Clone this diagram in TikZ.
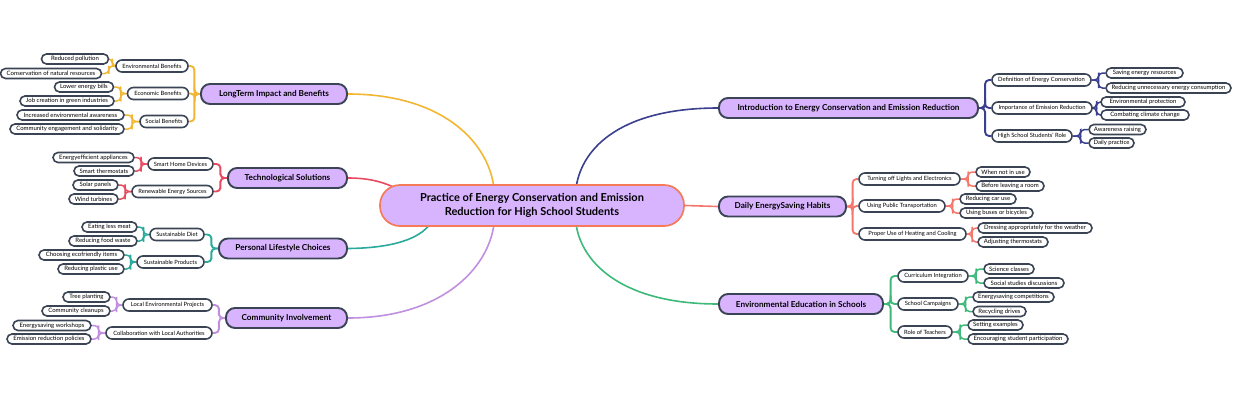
\documentclass[tikz,border=0pt]{standalone}
\usepackage{fontspec}
\setmainfont{Lato}
\usetikzlibrary{calc,backgrounds}
\definecolor{dk}{HTML}{3B4454}
\definecolor{pur}{HTML}{D8B4FE}
\definecolor{cor}{HTML}{F47A5A}
\definecolor{cya}{HTML}{F2B632}
\definecolor{cre}{HTML}{E84A5F}
\definecolor{cte}{HTML}{2BA99B}
\definecolor{cla}{HTML}{C18FE0}
\definecolor{cna}{HTML}{3B3F8F}
\definecolor{csa}{HTML}{F5766B}
\definecolor{cgr}{HTML}{3DB97A}
\tikzset{
  mw/.style={minimum width=#1 pt},
  lf/.style={draw=dk, fill=white, line width=1.6pt, rounded corners=5pt, minimum height=10pt, inner sep=0pt, font=\fontsize{6}{6}\selectfont},
  lt/.style={lf, minimum height=12pt, rounded corners=6pt, font=\fontsize{5.8}{6}\selectfont},
  lb/.style={draw=dk, fill=pur, line width=1.9pt, rounded corners=9pt, minimum height=20pt, inner sep=0pt, font=\fontsize{8.2}{9}\selectfont\bfseries},
  root/.style={draw=cor, fill=pur, line width=1.7pt, rounded corners=20pt, minimum height=41pt, minimum width=304pt, inner sep=0pt, align=center, font=\fontsize{11}{13.5}\selectfont\bfseries},
  c1/.style={line width=1.6pt},
  c2/.style={line width=1.9pt, rounded corners=4pt},
  c3/.style={line width=1.5pt, rounded corners=4pt},
}
\begin{document}
\begin{tikzpicture}[x=1pt,y=-1pt]
\useasboundingbox (0,0) rectangle (1240,400);
% root
\node[root] (R) at (532,205.5) {Practice of Energy Conservation and Emission\\Reduction for High School Students};
% level 2 left
\node[lb,mw=146] (A) at (274,94) {LongTerm Impact and Benefits};
\node[lb,mw=119] (B) at (287.5,178) {Technological Solutions};
\node[lb,mw=128] (C) at (283,248.5) {Personal Lifestyle Choices};
\node[lb,mw=121] (D) at (286.5,318) {Community Involvement};
% level 2 right
\node[lb,mw=259] (E) at (848.5,108) {Introduction to Energy Conservation and Emission Reduction};
\node[lb,mw=127] (F) at (782.5,206.5) {Daily EnergySaving Habits};
\node[lb,mw=164] (G) at (801,304) {Environmental Education in Schools};
% A
\node[lt,mw=72] (A1) at (152,66) {Environmental Benefits};
\node[lf,mw=67] (A1a) at (75,59) {Reduced pollution};
\node[lf,mw=101] (A1b) at (51,73.5) {Conservation of natural resources};
\node[lt,mw=61] (A2) at (158,93.5) {Economic Benefits};
\node[lf,mw=59] (A2a) at (84,87) {Lower energy bills};
\node[lf,mw=94] (A2b) at (67,101) {Job creation in green industries};
\node[lt,mw=48] (A3) at (164,121.5) {Social Benefits};
\node[lf,mw=107] (A3a) at (70.5,115) {Increased environmental awareness};
\node[lf,mw=114] (A3b) at (67,129) {Community engagement and solidarity};
% B
\node[lt,mw=65] (B1) at (180.5,164) {Smart Home Devices};
\node[lf,mw=81] (B1a) at (93.5,157.5) {Energyefficient appliances};
\node[lf,mw=60] (B1b) at (104,171) {Smart thermostats};
\node[lt,mw=81] (B2) at (172.5,191.5) {Renewable Energy Sources};
\node[lf,mw=45] (B2a) at (95.5,185) {Solar panels};
\node[lf,mw=49] (B2b) at (93.5,199) {Wind turbines};
% C
\node[lt,mw=54] (C1) at (177,234.5) {Sustainable Diet};
\node[lf,mw=55] (C1a) at (109.5,227) {Eating less meat};
\node[lf,mw=68] (C1b) at (103,241) {Reducing food waste};
\node[lt,mw=67] (C2) at (170.5,262) {Sustainable Products};
\node[lf,mw=85] (C2a) at (81.5,255) {Choosing ecofriendly items};
\node[lf,mw=66] (C2b) at (91,269) {Reducing plastic use};
% D
\node[lt,mw=89] (D1) at (167.5,305) {Local Environmental Projects};
\node[lf,mw=47] (D1a) at (86.5,297) {Tree planting};
\node[lf,mw=68] (D1b) at (76,311) {Community cleanups};
\node[lt,mw=106] (D2) at (159,333) {Collaboration with Local Authorities};
\node[lf,mw=78] (D2a) at (52,325.5) {Energysaving workshops};
\node[lf,mw=84] (D2b) at (49,339) {Emission reduction policies};
% E
\node[lt,mw=99] (E1) at (1041.5,80) {Definition of Energy Conservation};
\node[lf,mw=77] (E1a) at (1144.5,73) {Saving energy resources};
\node[lf,mw=125] (E1b) at (1168.5,88) {Reducing unnecessary energy consumption};
\node[lt,mw=100] (E2) at (1042,108) {Importance of Emission Reduction};
\node[lf,mw=84] (E2a) at (1143,102) {Environmental protection};
\node[lf,mw=88] (E2b) at (1145,115) {Combating climate change};
\node[lt,mw=80] (E3) at (1032,136) {High School Students' Role};
\node[lf,mw=57] (E3a) at (1117.5,129.5) {Awareness raising};
\node[lf,mw=45] (E3b) at (1111.5,143) {Daily practice};
% F
\node[lt,mw=101] (F1) at (909.5,179) {Turning off Lights and Electronics};
\node[lf,mw=54] (F1a) at (1003,172) {When not in use};
\node[lf,mw=68] (F1b) at (1010,186) {Before leaving a room};
\node[lt,mw=86] (F2) at (902,206) {Using Public Transportation};
\node[lf,mw=56] (F2a) at (988,199) {Reducing car use};
\node[lf,mw=73] (F2b) at (996.5,213) {Using buses or bicycles};
\node[lt,mw=107] (F3) at (912.5,234) {Proper Use of Heating and Cooling};
\node[lf,mw=114] (F3a) at (1035,228) {Dressing appropriately for the weather};
\node[lf,mw=70] (F3b) at (1013,242) {Adjusting thermostats};
% G
\node[lt,mw=70] (G1) at (933,276) {Curriculum Integration};
\node[lf,mw=50] (G1a) at (1009,269) {Science classes};
\node[lf,mw=80] (G1b) at (1024,283) {Social studies discussions};
\node[lt,mw=60] (G2) at (928,304) {School Campaigns};
\node[lf,mw=81] (G2a) at (1013.5,297) {Energysaving competitions};
\node[lf,mw=53] (G2b) at (999.5,311.5) {Recycling drives};
\node[lt,mw=54] (G3) at (925,332) {Role of Teachers};
\node[lf,mw=55] (G3a) at (995.5,325) {Setting examples};
\node[lf,mw=100] (G3b) at (1018,339) {Encouraging student participation};
% connectors (behind)
\begin{pgfonlayer}{background}
\coordinate (rA) at (494,188);
\coordinate (rB) at (398,189);
\coordinate (rC) at (430,224);
\coordinate (rD) at (494,224);
\coordinate (rE) at (576,188);
\coordinate (rG) at (576,224);
\draw[cya,c1] (A.east) .. controls (440,94) and (488,140) .. (rA);
\draw[cre,c1] (B.east) .. controls (372,178) and (385,183) .. (rB);
\draw[cte,c1] (C.east) .. controls (395,248) and (420,238) .. (rC);
\draw[cla,c1] (D.east) .. controls (440,318) and (488,270) .. (rD);
\draw[cna,c1] (E.west) .. controls (625,108) and (582,145) .. (rE);
\draw[csa,c1] (R.east) -- (F.west);
\draw[cgr,c1] (G.west) .. controls (625,304) and (582,265) .. (rG);
% left elbows
\foreach \col/\p/\c in {cya/A/A1,cya/A/A2,cya/A/A3,cre/B/B1,cre/B/B2,cte/C/C1,cte/C/C2,cla/D/D1,cla/D/D2}
  \draw[\col,c2] (\p.west) -| ($(\p.west)!.5!(\c.east)$) |- (\c.east);
\foreach \col/\p/\c in {cya/A1/A1a,cya/A1/A1b,cya/A2/A2a,cya/A2/A2b,cya/A3/A3a,cya/A3/A3b,cre/B1/B1a,cre/B1/B1b,cre/B2/B2a,cre/B2/B2b,cte/C1/C1a,cte/C1/C1b,cte/C2/C2a,cte/C2/C2b,cla/D1/D1a,cla/D1/D1b,cla/D2/D2a,cla/D2/D2b}
  \draw[\col,c3] (\p.west) -| ($(\p.west)!.5!(\c.east)$) |- (\c.east);
% right elbows
\foreach \col/\p/\c in {cna/E/E1,cna/E/E2,cna/E/E3,csa/F/F1,csa/F/F2,csa/F/F3,cgr/G/G1,cgr/G/G2,cgr/G/G3}
  \draw[\col,c2] (\p.east) -| ($(\p.east)!.5!(\c.west)$) |- (\c.west);
\foreach \col/\p/\c in {cna/E1/E1a,cna/E1/E1b,cna/E2/E2a,cna/E2/E2b,cna/E3/E3a,cna/E3/E3b,csa/F1/F1a,csa/F1/F1b,csa/F2/F2a,csa/F2/F2b,csa/F3/F3a,csa/F3/F3b,cgr/G1/G1a,cgr/G1/G1b,cgr/G2/G2a,cgr/G2/G2b,cgr/G3/G3a,cgr/G3/G3b}
  \draw[\col,c3] (\p.east) -| ($(\p.east)!.5!(\c.west)$) |- (\c.west);
\end{pgfonlayer}
\end{tikzpicture}
\end{document}
